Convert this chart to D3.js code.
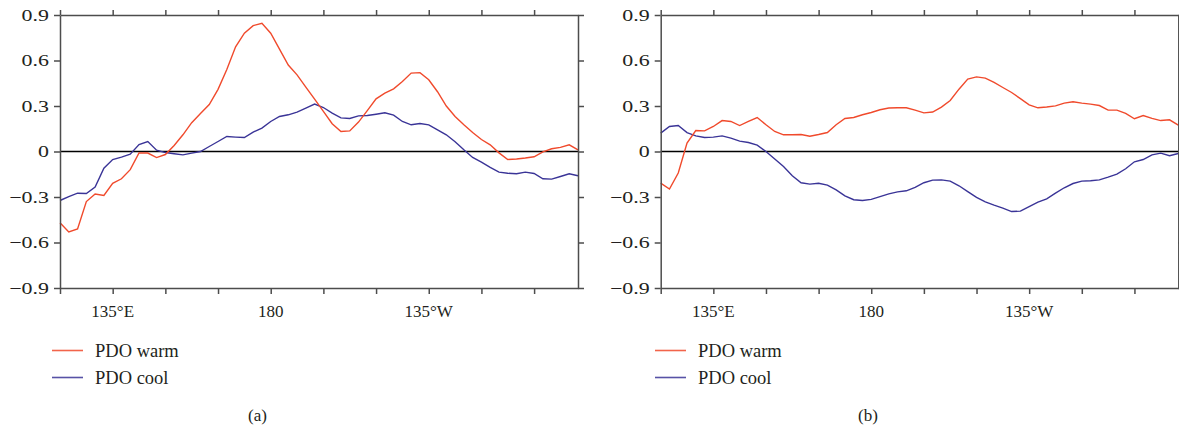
<!DOCTYPE html>
<html>
<head>
<meta charset="utf-8">
<script src="https://cdn.jsdelivr.net/npm/d3@7"></script>
<style>
  html, body { margin: 0; padding: 0; background: #fff; }
  svg { display: block; }
  svg text { font-family: 'Liberation Serif', 'Times New Roman', 'DejaVu Serif', serif; }
</style>
</head>
<body>
<svg id="chart" width="1179" height="429"></svg>
<script>
// longitudes (degrees east), 2.5 deg steps
var lons = [120,122.5,125,127.5,130,132.5,135,137.5,140,142.5,145,147.5,150,152.5,155,157.5,160,162.5,165,167.5,
  170,172.5,175,177.5,180,182.5,185,187.5,190,192.5,195,197.5,200,202.5,205,207.5,210,212.5,215,217.5,
  220,222.5,225,227.5,230,232.5,235,237.5,240,242.5,245,247.5,250,252.5,255,257.5,260,262.5,265,267.5];

var warmA = [-0.47,-0.53,-0.51,-0.33,-0.28,-0.29,-0.21,-0.18,-0.12,-0.01,-0.01,-0.04,-0.02,0.04,0.11,0.19,0.25,0.31,0.41,0.54,
  0.69,0.78,0.83,0.845,0.78,0.675,0.57,0.505,0.425,0.345,0.264,0.183,0.132,0.136,0.194,0.27,0.347,0.385,0.413,0.462,
  0.517,0.52,0.473,0.394,0.30,0.231,0.176,0.125,0.079,0.044,-0.009,-0.053,-0.049,-0.043,-0.035,-0.002,0.018,0.027,0.044,0.011];
var coolA = [-0.323,-0.297,-0.275,-0.277,-0.235,-0.11,-0.053,-0.037,-0.018,0.046,0.066,0.009,-0.007,-0.015,-0.022,-0.011,0,0.033,0.066,0.099,
  0.095,0.092,0.128,0.154,0.198,0.231,0.242,0.26,0.286,0.313,0.29,0.253,0.222,0.218,0.235,0.237,0.246,0.255,0.24,0.198,
  0.176,0.185,0.176,0.143,0.11,0.064,0.011,-0.039,-0.07,-0.105,-0.136,-0.143,-0.147,-0.136,-0.145,-0.18,-0.182,-0.165,-0.147,-0.16];

var warmB = [-0.209,-0.248,-0.142,0.055,0.138,0.136,0.165,0.204,0.198,0.171,0.198,0.224,0.176,0.132,0.11,0.11,0.112,0.101,0.112,0.125,
  0.176,0.218,0.224,0.242,0.257,0.275,0.287,0.288,0.288,0.273,0.255,0.26,0.293,0.336,0.411,0.477,0.492,0.484,0.455,0.422,
  0.389,0.349,0.308,0.288,0.293,0.301,0.319,0.328,0.319,0.312,0.303,0.273,0.273,0.251,0.216,0.237,0.218,0.204,0.209,0.174];
var coolB = [0.121,0.165,0.171,0.125,0.103,0.092,0.095,0.103,0.088,0.068,0.059,0.042,0,-0.05,-0.099,-0.16,-0.206,-0.215,-0.209,-0.222,
  -0.253,-0.292,-0.318,-0.323,-0.316,-0.298,-0.279,-0.266,-0.259,-0.237,-0.206,-0.189,-0.187,-0.195,-0.226,-0.264,-0.303,-0.332,-0.354,-0.373,
  -0.396,-0.393,-0.363,-0.334,-0.312,-0.275,-0.239,-0.211,-0.195,-0.193,-0.187,-0.169,-0.149,-0.114,-0.068,-0.053,-0.022,-0.011,-0.028,-0.013];

var yTicks = [0.9, 0.6, 0.3, 0, -0.3, -0.6, -0.9];
var xTicks = [120,135,150,165,180,195,210,225,240,255];
var xLabels = [[135, "135°E"], [180, "180"], [225, "135°W"]];
var seriesNames = ["PDO warm", "PDO cool"];
var panelNames = ["(a)", "(b)"];

var colWarm = "#f04a2c", colCool = "#3a3497", axisCol = "#4d4d4d", textCol = "#231f20";
var serif = "'Liberation Serif', 'Times New Roman', 'DejaVu Serif', serif";

var svg = d3.select("#chart");

function fmt(v) {
  if (v === 0) return "0";
  return (v < 0 ? "\u2212" : "") + Math.abs(v).toFixed(1);
}

function drawPanel(left, right, warm, cool, legendX, labelX, name) {
  var top = 15, bottom = 288;
  var x = d3.scaleLinear().domain([120, 267.5]).range([left, right]);
  var y = d3.scaleLinear().domain([-0.9, 0.9]).range([bottom, top]);
  var g = svg.append("g").attr("font-family", serif);

  // zero line
  g.append("line")
    .attr("x1", left).attr("x2", right)
    .attr("y1", y(0)).attr("y2", y(0))
    .attr("stroke", "#000").attr("stroke-width", 1.3);

  var line = d3.line().x(function(d, i) { return x(lons[i]); }).y(function(d) { return y(d); });

  g.append("path").datum(cool).attr("d", line)
    .attr("fill", "none").attr("stroke", colCool).attr("stroke-width", 1.4);
  g.append("path").datum(warm).attr("d", line)
    .attr("fill", "none").attr("stroke", colWarm).attr("stroke-width", 1.4);

  // frame with outward ticks
  var axB = d3.axisBottom(x).tickValues(xTicks).tickSize(6).tickSizeOuter(0).tickFormat("");
  var axT = d3.axisTop(x).tickValues(xTicks).tickSize(5).tickSizeOuter(0).tickFormat("");
  var axL = d3.axisLeft(y).tickValues(yTicks).tickSize(6).tickSizeOuter(0).tickFormat("");
  var axR = d3.axisRight(y).tickValues(yTicks).tickSize(6).tickSizeOuter(0).tickFormat("");
  var frames = [
    g.append("g").attr("transform", "translate(0," + bottom + ")").call(axB),
    g.append("g").attr("transform", "translate(0," + top + ")").call(axT),
    g.append("g").attr("transform", "translate(" + left + ",0)").call(axL),
    g.append("g").attr("transform", "translate(" + right + ",0)").call(axR)
  ];
  frames.forEach(function(a) {
    a.selectAll("path, line").attr("stroke", axisCol).attr("stroke-width", 1.5);
  });

  // y labels (stretched a bit horizontally like the original)
  g.selectAll(".ylab").data(yTicks).enter().append("text")
    .attr("class", "ylab")
    .attr("transform", function(d) { return "translate(" + (left - 11) + "," + y(d) + ") scale(1.33,1)"; })
    .attr("dy", "0.34em")
    .attr("text-anchor", "end")
    .attr("font-family", serif)
    .attr("font-size", 16.5)
    .attr("fill", textCol)
    .text(fmt);

  g.selectAll(".xlab").data(xLabels).enter().append("text")
    .attr("x", function(d) { return x(d[0]); })
    .attr("y", 317)
    .attr("text-anchor", "middle")
    .attr("font-family", serif)
    .attr("font-size", 17)
    .attr("fill", textCol)
    .text(function(d) { return d[1]; });

  // legend
  var cols = [colWarm, colCool];
  seriesNames.forEach(function(s, i) {
    var ly = 350.5 + i * 27;
    g.append("line")
      .attr("x1", legendX).attr("x2", legendX + 31)
      .attr("y1", ly).attr("y2", ly)
      .attr("stroke", cols[i]).attr("stroke-width", 1.6).attr("opacity", 0.85);
    g.append("text")
      .attr("x", legendX + 43).attr("y", ly + 6)
      .attr("font-family", serif)
      .attr("font-size", 18.5).attr("fill", textCol)
      .text(s);
  });

  g.append("text")
    .attr("x", labelX).attr("y", 421)
    .attr("text-anchor", "middle")
    .attr("font-family", serif)
    .attr("font-size", 17).attr("fill", textCol)
    .text(name);
}

drawPanel(60, 578, warmA, coolA, 52, 257.5, panelNames[0]);
drawPanel(660.7, 1178.3, warmB, coolB, 655, 868, panelNames[1]);
</script>
</body>
</html>
